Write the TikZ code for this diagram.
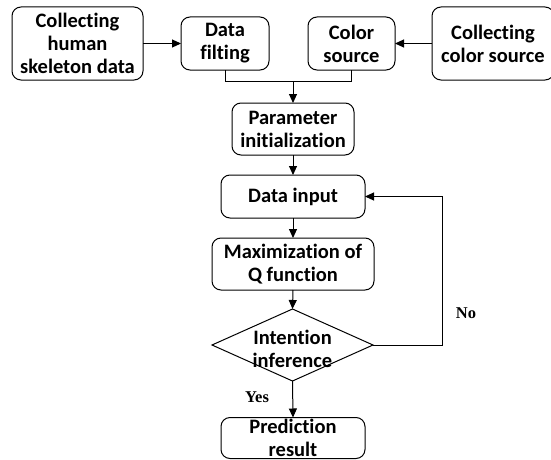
\documentclass[tikz,border=0pt]{standalone}
\usepackage{fontspec}
\setmainfont[Ligatures=NoCommon]{Carlito}
\newfontfamily\labfont{Liberation Serif}
\usetikzlibrary{arrows.meta,shapes.geometric}
\begin{document}
\begin{tikzpicture}[x=1pt,y=-1pt,
  every node/.style={inner sep=0pt,outer sep=0pt},
  box/.style={draw,line width=1pt,rounded corners=9pt,align=center,
    font=\fontsize{20.5}{23}\selectfont\bfseries},
  dia/.style={draw,line width=1pt,diamond,aspect=2.24,align=center},
  conn/.style={line width=1pt},
  arr/.style={line width=1pt,-{Triangle[length=9pt,width=8pt]}},
  lab/.style={font=\labfont\fontsize{16.5}{18}\selectfont\bfseries}]
\clip (0,0) rectangle (551,460);
\fill[white] (0,0) rectangle (551,460);
\node[box,minimum width=131pt,minimum height=73pt] (b1) at (77.5,43.5) {Collecting\\human\\skeleton data};
\node[box,minimum width=88pt,minimum height=53pt] (b2) at (225,43.5) {Data\\filting};
\node[box,minimum width=87pt,minimum height=53pt] (b3) at (351.5,43.5) {Color\\source};
\node[box,minimum width=122pt,minimum height=73pt] (b4) at (493,43.5) {Collecting\\color source};
\node[box,minimum width=122pt,minimum height=52pt] (b5) at (293,129) {Parameter\\initialization};
\node[box,minimum width=144pt,minimum height=43pt] (b6) at (293,196.5) {Data input};
\node[box,minimum width=162pt,minimum height=52pt] (b7) at (293,264) {Maximization of\\Q function};
\node[dia,minimum width=161pt,minimum height=72pt] (d) at (292.5,345) {};
\node[font=\fontsize{20.5}{23}\selectfont\bfseries,align=center] (dt) at (292.5,349) {Intention\\inference};
\node[box,minimum width=144pt,minimum height=41pt] (b8) at (293,438) {Prediction\\result};
\coordinate (jl) at (b2.south |- 0,81);
\coordinate (jr) at (b3.south |- 0,81);
\coordinate (jm) at (b5.north |- 0,81);
\coordinate (lr) at (442,0);
\draw[arr] (b1.east) -- (b2.west);
\draw[arr] (b4.west) -- (b3.east);
\draw[conn] (b2.south) -- (jl) -- (jr) -- (b3.south);
\draw[arr] (jm) -- (b5.north);
\draw[arr] (b5.south) -- (b6.north);
\draw[arr] (b6.south) -- (b7.north);
\draw[arr] (b7.south) -- (d.north);
\draw[arr] (d.south) -- (b8.north);
\draw[arr] (d.east) -| (lr |- b6.east) -- (b6.east);
\node[lab] (no) at (466,313) {No};
\node[lab] (yes) at (257,397) {Yes};
\end{tikzpicture}
\end{document}
